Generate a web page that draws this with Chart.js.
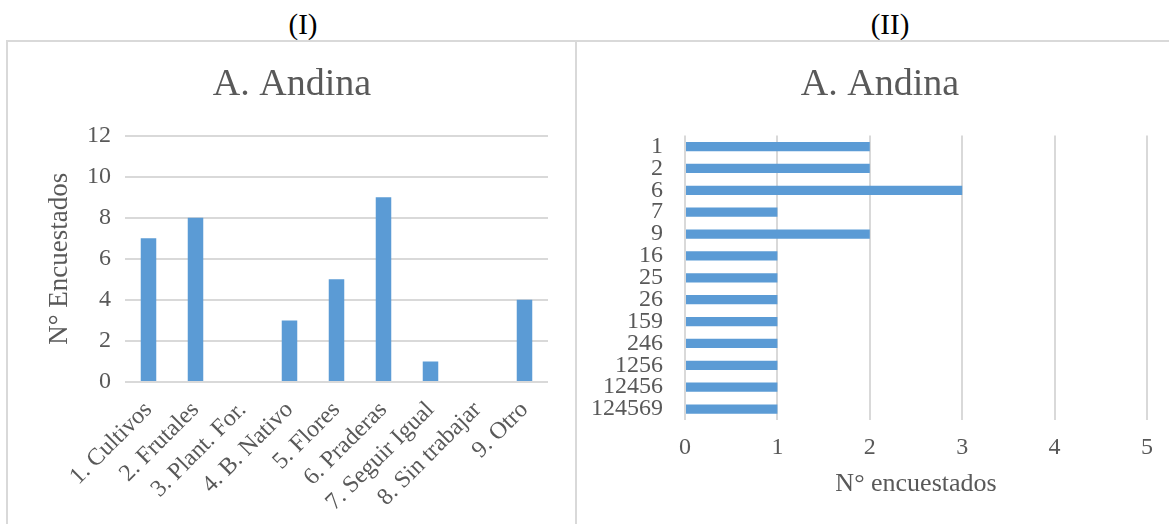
<!DOCTYPE html>
<html>
<head>
<meta charset="utf-8">
<script src="https://cdn.jsdelivr.net/npm/chart.js@4/dist/chart.umd.min.js"></script>
<style>
  html, body { margin: 0; padding: 0; background: #fff; }
  #page { position: relative; width: 1169px; height: 524px; overflow: hidden; background: #fff; font-family: "Liberation Serif", "Times New Roman", serif; }
  .hdr { position: absolute; top: 6px; font-size: 29px; color: #000; transform: translateX(-50%); line-height: 36px; }
  .line { position: absolute; background: #d9d9d9; }
  .wrap { position: absolute; }
</style>
</head>
<body>
<div id="page">
  <div class="hdr" style="left:303px;">(I)</div>
  <div class="hdr" style="left:890px;">(II)</div>
  <div class="line" style="left:7px; top:40px; width:1162px; height:2px;"></div>
  <div class="line" style="left:6px; top:40px; width:2px; height:484px;"></div>
  <div class="line" style="left:575px; top:40px; width:2px; height:484px;"></div>
  <div class="wrap" style="left:8px; top:42px; width:567px; height:482px;"><canvas id="c1" width="567" height="482"></canvas></div>
  <div class="wrap" style="left:577px; top:42px; width:592px; height:482px;"><canvas id="c2" width="592" height="482"></canvas></div>
</div>
<script>
// ---- Data ----
const categoriesI = ['1. Cultivos', '2. Frutales', '3. Plant. For.', '4. B. Nativo', '5. Flores', '6. Praderas', '7. Seguir Igual', '8. Sin trabajar', '9. Otro'];
const valuesI = [7, 8, 0, 3, 5, 9, 1, 0, 4];
const yTicksI = [0, 2, 4, 6, 8, 10, 12];

const categoriesII = ['1', '2', '6', '7', '9', '16', '25', '26', '159', '246', '1256', '12456', '124569'];
const valuesII = [2, 2, 3, 1, 2, 1, 1, 1, 1, 1, 1, 1, 1];
const xTicksII = [0, 1, 2, 3, 4, 5];

const titleText = 'A. Andina';
const yTitleI = 'N° Encuestados';
const xTitleII = 'N° encuestados';

// ---- Styles ----
const FONT = '"Liberation Serif", "Times New Roman", serif';
const TEXT = '#595959';
const GRID = '#d9d9d9';
const BAR = '#5b9bd5';

Chart.defaults.font.family = FONT;
Chart.defaults.color = TEXT;

// centre the title over the whole panel instead of the padded box
const titleShift = {
  id: 'titleShift',
  afterLayout(chart, args, opts) {
    if (chart.titleBlock && opts && opts.left) chart.titleBlock.left += opts.left;
  }
};

new Chart(document.getElementById('c1'), {
  type: 'bar',
  data: {
    labels: categoriesI,
    datasets: [{ data: valuesI, backgroundColor: BAR, borderWidth: 0, barPercentage: 0.33, categoryPercentage: 1 }]
  },
  options: {
    responsive: false,
    animation: false,
    layout: { padding: { left: 28, right: 27, top: 0, bottom: 0 } },
    plugins: {
      legend: { display: false },
      tooltip: { enabled: false },
      title: { display: true, text: titleText, color: TEXT, font: { size: 38, weight: 'normal' }, padding: { top: 20, bottom: 28 } }
    },
    scales: {
      x: {
        grid: { display: false },
        border: { display: false },
        ticks: { autoSkip: false, minRotation: 45, maxRotation: 45, color: TEXT, font: { size: 24 }, padding: 6 },
        afterFit: (s) => { s.height = 142; }
      },
      y: {
        min: 0, max: 12,
        afterBuildTicks: (s) => { s.ticks = yTicksI.map(v => ({ value: v })); },
        grid: { color: GRID, lineWidth: 2, drawTicks: false },
        border: { display: false },
        ticks: { color: TEXT, font: { size: 24 }, padding: 14 },
        title: { display: true, text: yTitleI, color: TEXT, font: { size: 27, weight: 'normal' }, padding: { top: 8, bottom: 0 } },
        afterFit: (s) => { s.width = 89; }
      }
    }
  }
});

new Chart(document.getElementById('c2'), {
  type: 'bar',
  data: {
    labels: categoriesII,
    datasets: [{ data: valuesII, backgroundColor: BAR, borderWidth: 0, barPercentage: 0.42, categoryPercentage: 1 }]
  },
  plugins: [titleShift],
  options: {
    indexAxis: 'y',
    responsive: false,
    animation: false,
    layout: { padding: { left: 0, right: 22, top: 0, bottom: 20 } },
    plugins: {
      legend: { display: false },
      tooltip: { enabled: false },
      titleShift: { left: 36 },
      title: { display: true, text: titleText, color: TEXT, font: { size: 38, weight: 'normal' }, padding: { top: 20, bottom: 28 } }
    },
    scales: {
      x: {
        min: 0, max: 5,
        afterBuildTicks: (s) => { s.ticks = xTicksII.map(v => ({ value: v })); },
        grid: { color: GRID, lineWidth: 2, drawTicks: false },
        border: { display: false },
        ticks: { color: TEXT, font: { size: 24 }, padding: 13 },
        title: { display: true, text: xTitleII, color: TEXT, font: { size: 26, weight: 'normal' }, padding: { top: 4 } },
        afterFit: (s) => { s.height = 84; }
      },
      y: {
        grid: { display: false },
        border: { display: false },
        ticks: { autoSkip: false, color: TEXT, font: { size: 24 }, padding: 14, lineHeight: 1 },
        afterFit: (s) => { s.width = 108; }
      }
    }
  }
});
</script>
</body>
</html>
